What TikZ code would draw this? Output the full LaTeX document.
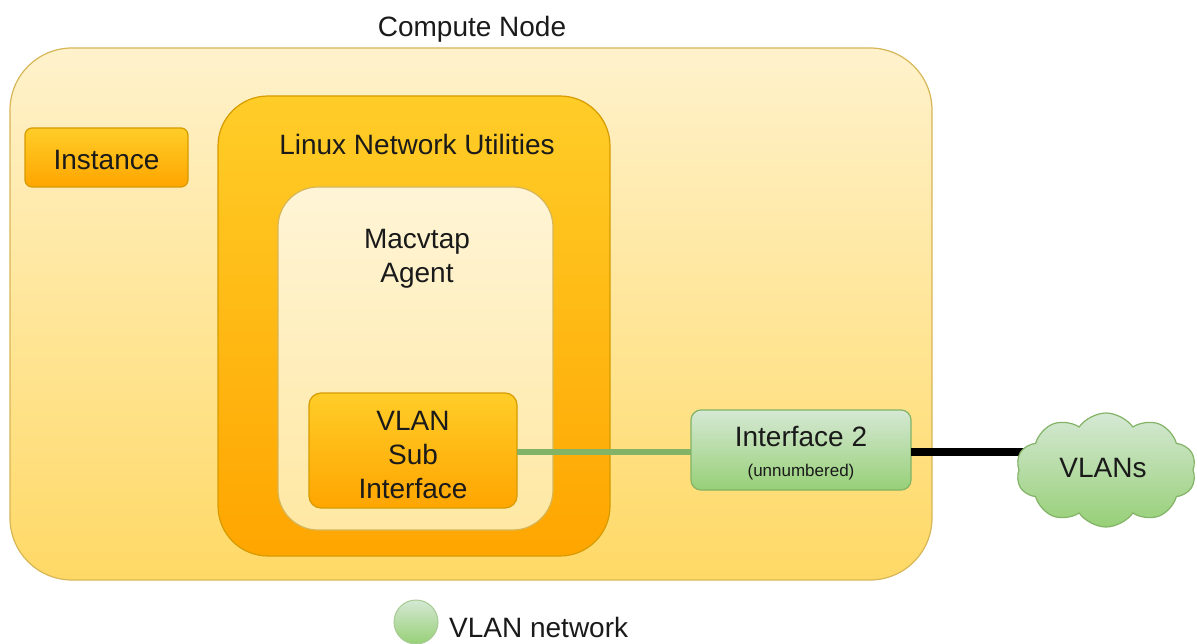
\documentclass[tikz,border=0pt]{standalone}
\usepackage{fontspec}
\setmainfont{Liberation Sans}
\usetikzlibrary{shapes.symbols}
\definecolor{lyTop}{HTML}{FFF2CC}
\definecolor{lyBot}{HTML}{FFD966}
\definecolor{lyLine}{HTML}{D6B656}
\definecolor{orTop}{HTML}{FFCD28}
\definecolor{orBot}{HTML}{FFA500}
\definecolor{orLine}{HTML}{D79B00}
\definecolor{grTop}{HTML}{D5E8D4}
\definecolor{grBot}{HTML}{97D077}
\definecolor{grLine}{HTML}{82B366}
\definecolor{txt}{HTML}{1A1A1A}
\tikzset{
  box/.style={rectangle, inner sep=0pt, outer sep=0pt, line width=1.2pt},
  lightbox/.style={box, draw=lyLine, top color=lyTop, bottom color=lyBot},
  orangebox/.style={box, draw=orLine, top color=orTop, bottom color=orBot},
  greenbox/.style={box, draw=grLine, top color=grTop, bottom color=grBot},
  lbl/.style={inner sep=0pt, text=txt, font=\fontsize{28}{34}\selectfont, align=center},
  small/.style={inner sep=0pt, text=txt, font=\fontsize{17}{19}\selectfont},
  cloudshape/.style={draw=grLine, line width=1.2pt, cloud, cloud puffs=10, cloud puff arc=110, aspect=1.6, inner sep=0pt, outer sep=0pt, minimum width=180pt, minimum height=114pt, top color=grTop, bottom color=grBot},
}
\begin{document}
\begin{tikzpicture}[x=1pt,y=-1pt]
\useasboundingbox (0,0) rectangle (1197,644);
% compute node
\node[lightbox, rounded corners=62pt, minimum width=922pt, minimum height=532pt] (compute) at (471,314) {};
\node[lbl] (computelbl) at (472,29) {Compute Node};
% instance
\node[orangebox, rounded corners=7pt, minimum width=163pt, minimum height=59pt] (instance) at (106.5,157.5) {};
\node[lbl] (instancelbl) at (106.5,160) {Instance};
% linux network utilities
\node[orangebox, rounded corners=50pt, minimum width=392pt, minimum height=460pt] (linux) at (414,326) {};
\node[lbl] (linuxlbl) at (417,144) {Linux Network Utilities};
% macvtap agent
\node[lightbox, rounded corners=40pt, minimum width=275pt, minimum height=343pt, top color=lyTop!80!white, bottom color=lyTop!60!lyBot] (macvtap) at (415.5,358.5) {};
\node[lbl] (macvtaplbl) at (417,259) {Macvtap\\Agent};
% vlan sub interface
\node[orangebox, rounded corners=12pt, minimum width=208pt, minimum height=115pt] (vlansub) at (413,450.5) {};
\node[lbl] (vlansublbl) at (413,455) {VLAN\\Sub\\Interface};
% interface 2
\node[greenbox, rounded corners=10pt, minimum width=220pt, minimum height=80pt] (iface) at (801,450) {};
\node[lbl] (ifacelbl) at (801,437) {Interface 2};
\node[small] (ifacesub) at (801,472) {(unnumbered)};
% connectors
\coordinate (cloudedge) at (1024,452);
\draw[grLine, line width=6pt] (vlansub.east |- 0,452) -- (iface.west |- 0,452);
\draw[black, line width=8pt] (iface.east |- 0,452) -- (cloudedge);
% cloud
\node[cloudshape] (cloud) at (1106,470) {};
\node[lbl] (cloudlbl) at (1103,468) {VLANs};
% legend
\node[circle, draw=grLine!70!white, line width=1pt, top color=grTop, bottom color=grBot, minimum size=44pt, inner sep=0pt] (legend) at (416,622) {};
\node[lbl, anchor=west] (legendlbl) at (449,627) {VLAN network};
\end{tikzpicture}
\end{document}
